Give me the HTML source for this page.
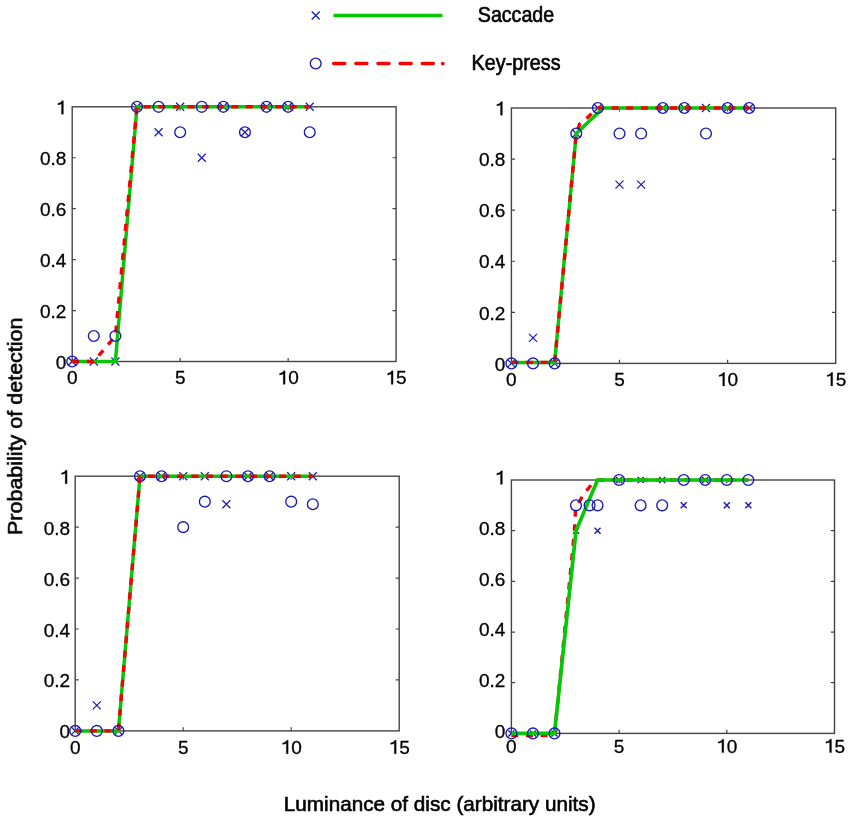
<!DOCTYPE html>
<html><head><meta charset="utf-8"><style>html,body{margin:0;padding:0;background:#fff;overflow:hidden}svg{display:block}g.t{filter:grayscale(1)}</style></head>
<body>
<svg width="851" height="823" viewBox="0 0 851 823">
<rect width="851" height="823" fill="#fff"/>
<rect x="72.2" y="106.8" width="323.90" height="254.70" fill="none" stroke="#444" stroke-width="1.4"/>
<path d="M72.20 310.56h3.6M396.10 310.56h-3.6M72.20 259.62h3.6M396.10 259.62h-3.6M72.20 208.68h3.6M396.10 208.68h-3.6M72.20 157.74h3.6M396.10 157.74h-3.6M180.17 361.50v-3.6M180.17 106.80v3.6M288.13 361.50v-3.6M288.13 106.80v3.6" stroke="#444" stroke-width="1.2" fill="none"/>
<g class="t" font-family="'Liberation Sans', sans-serif" font-size="19.0" fill="#000" stroke="#000" stroke-width="0.3"><text x="55.84" y="368.90">0</text><text x="39.99" y="317.96">0.2</text><text x="39.99" y="267.02">0.4</text><text x="39.99" y="216.08">0.6</text><text x="39.99" y="165.14">0.8</text><path transform="translate(55.84 114.20) scale(19.0)" d="M0.395 0H0.300V-0.555C0.250 -0.520 0.170 -0.500 0.105 -0.495V-0.565C0.215 -0.585 0.290 -0.630 0.325 -0.709H0.395Z" stroke-width="0.018"/><text x="66.92" y="384.30">0</text><text x="174.88" y="384.30">5</text><path transform="translate(277.57 384.30) scale(19.0)" d="M0.395 0H0.300V-0.555C0.250 -0.520 0.170 -0.500 0.105 -0.495V-0.565C0.215 -0.585 0.290 -0.630 0.325 -0.709H0.395Z" stroke-width="0.018"/><text x="288.13" y="384.30">0</text><path transform="translate(385.54 384.30) scale(19.0)" d="M0.395 0H0.300V-0.555C0.250 -0.520 0.170 -0.500 0.105 -0.495V-0.565C0.215 -0.585 0.290 -0.630 0.325 -0.709H0.395Z" stroke-width="0.018"/><text x="396.10" y="384.30">5</text></g>
<path d="M68.20 357.50L76.20 365.50M68.20 365.50L76.20 357.50" stroke="#1a1ab4" stroke-width="1.25" fill="none"/>
<path d="M89.79 357.50L97.79 365.50M89.79 365.50L97.79 357.50" stroke="#1a1ab4" stroke-width="1.25" fill="none"/>
<path d="M111.39 357.50L119.39 365.50M111.39 365.50L119.39 357.50" stroke="#1a1ab4" stroke-width="1.25" fill="none"/>
<path d="M132.98 102.80L140.98 110.80M132.98 110.80L140.98 102.80" stroke="#1a1ab4" stroke-width="1.25" fill="none"/>
<path d="M154.57 128.27L162.57 136.27M154.57 136.27L162.57 128.27" stroke="#1a1ab4" stroke-width="1.25" fill="none"/>
<path d="M176.17 102.80L184.17 110.80M176.17 110.80L184.17 102.80" stroke="#1a1ab4" stroke-width="1.25" fill="none"/>
<path d="M197.76 153.74L205.76 161.74M197.76 161.74L205.76 153.74" stroke="#1a1ab4" stroke-width="1.25" fill="none"/>
<path d="M219.35 102.80L227.35 110.80M219.35 110.80L227.35 102.80" stroke="#1a1ab4" stroke-width="1.25" fill="none"/>
<path d="M240.95 128.27L248.95 136.27M240.95 136.27L248.95 128.27" stroke="#1a1ab4" stroke-width="1.25" fill="none"/>
<path d="M262.54 102.80L270.54 110.80M262.54 110.80L270.54 102.80" stroke="#1a1ab4" stroke-width="1.25" fill="none"/>
<path d="M284.13 102.80L292.13 110.80M284.13 110.80L292.13 102.80" stroke="#1a1ab4" stroke-width="1.25" fill="none"/>
<path d="M305.73 102.80L313.73 110.80M305.73 110.80L313.73 102.80" stroke="#1a1ab4" stroke-width="1.25" fill="none"/>
<polyline points="72.20,361.50 115.39,361.50 136.98,106.80 309.73,106.80" fill="none" stroke="#04c804" stroke-width="3.5" stroke-linejoin="miter"/>
<polyline points="72.20,361.50 93.79,361.50 115.39,336.03 136.98,106.80 309.73,106.80" fill="none" stroke="#f80000" stroke-width="3.4" stroke-dasharray="7 7.6" stroke-linejoin="round"/>
<circle cx="72.20" cy="361.50" r="5.4" stroke="#1a1ab4" stroke-width="1.35" fill="none"/>
<circle cx="93.79" cy="336.03" r="5.4" stroke="#1a1ab4" stroke-width="1.35" fill="none"/>
<circle cx="115.39" cy="336.03" r="5.4" stroke="#1a1ab4" stroke-width="1.35" fill="none"/>
<circle cx="136.98" cy="106.80" r="5.4" stroke="#1a1ab4" stroke-width="1.35" fill="none"/>
<circle cx="158.57" cy="106.80" r="5.4" stroke="#1a1ab4" stroke-width="1.35" fill="none"/>
<circle cx="180.17" cy="132.27" r="5.4" stroke="#1a1ab4" stroke-width="1.35" fill="none"/>
<circle cx="201.76" cy="106.80" r="5.4" stroke="#1a1ab4" stroke-width="1.35" fill="none"/>
<circle cx="223.35" cy="106.80" r="5.4" stroke="#1a1ab4" stroke-width="1.35" fill="none"/>
<circle cx="244.95" cy="132.27" r="5.4" stroke="#1a1ab4" stroke-width="1.35" fill="none"/>
<circle cx="266.54" cy="106.80" r="5.4" stroke="#1a1ab4" stroke-width="1.35" fill="none"/>
<circle cx="288.13" cy="106.80" r="5.4" stroke="#1a1ab4" stroke-width="1.35" fill="none"/>
<circle cx="309.73" cy="132.27" r="5.4" stroke="#1a1ab4" stroke-width="1.35" fill="none"/>
<rect x="511.4" y="108.0" width="324.30" height="255.40" fill="none" stroke="#444" stroke-width="1.4"/>
<path d="M511.40 312.32h3.6M835.70 312.32h-3.6M511.40 261.24h3.6M835.70 261.24h-3.6M511.40 210.16h3.6M835.70 210.16h-3.6M511.40 159.08h3.6M835.70 159.08h-3.6M619.50 363.40v-3.6M619.50 108.00v3.6M727.60 363.40v-3.6M727.60 108.00v3.6" stroke="#444" stroke-width="1.2" fill="none"/>
<g class="t" font-family="'Liberation Sans', sans-serif" font-size="19.0" fill="#000" stroke="#000" stroke-width="0.3"><text x="494.84" y="370.60">0</text><text x="478.99" y="319.52">0.2</text><text x="478.99" y="268.44">0.4</text><text x="478.99" y="217.36">0.6</text><text x="478.99" y="166.28">0.8</text><path transform="translate(494.84 115.20) scale(19.0)" d="M0.395 0H0.300V-0.555C0.250 -0.520 0.170 -0.500 0.105 -0.495V-0.565C0.215 -0.585 0.290 -0.630 0.325 -0.709H0.395Z" stroke-width="0.018"/><text x="506.12" y="385.90">0</text><text x="614.22" y="385.90">5</text><path transform="translate(717.04 385.90) scale(19.0)" d="M0.395 0H0.300V-0.555C0.250 -0.520 0.170 -0.500 0.105 -0.495V-0.565C0.215 -0.585 0.290 -0.630 0.325 -0.709H0.395Z" stroke-width="0.018"/><text x="727.60" y="385.90">0</text><path transform="translate(825.14 385.90) scale(19.0)" d="M0.395 0H0.300V-0.555C0.250 -0.520 0.170 -0.500 0.105 -0.495V-0.565C0.215 -0.585 0.290 -0.630 0.325 -0.709H0.395Z" stroke-width="0.018"/><text x="835.70" y="385.90">5</text></g>
<path d="M507.40 359.40L515.40 367.40M507.40 367.40L515.40 359.40" stroke="#1a1ab4" stroke-width="1.25" fill="none"/>
<path d="M529.02 333.86L537.02 341.86M529.02 341.86L537.02 333.86" stroke="#1a1ab4" stroke-width="1.25" fill="none"/>
<path d="M550.64 359.40L558.64 367.40M550.64 367.40L558.64 359.40" stroke="#1a1ab4" stroke-width="1.25" fill="none"/>
<path d="M572.26 129.54L580.26 137.54M572.26 137.54L580.26 129.54" stroke="#1a1ab4" stroke-width="1.25" fill="none"/>
<path d="M593.88 104.00L601.88 112.00M593.88 112.00L601.88 104.00" stroke="#1a1ab4" stroke-width="1.25" fill="none"/>
<path d="M615.50 180.62L623.50 188.62M615.50 188.62L623.50 180.62" stroke="#1a1ab4" stroke-width="1.25" fill="none"/>
<path d="M637.12 180.62L645.12 188.62M637.12 188.62L645.12 180.62" stroke="#1a1ab4" stroke-width="1.25" fill="none"/>
<path d="M658.74 104.00L666.74 112.00M658.74 112.00L666.74 104.00" stroke="#1a1ab4" stroke-width="1.25" fill="none"/>
<path d="M680.36 104.00L688.36 112.00M680.36 112.00L688.36 104.00" stroke="#1a1ab4" stroke-width="1.25" fill="none"/>
<path d="M701.98 104.00L709.98 112.00M701.98 112.00L709.98 104.00" stroke="#1a1ab4" stroke-width="1.25" fill="none"/>
<path d="M723.60 104.00L731.60 112.00M723.60 112.00L731.60 104.00" stroke="#1a1ab4" stroke-width="1.25" fill="none"/>
<path d="M745.22 104.00L753.22 112.00M745.22 112.00L753.22 104.00" stroke="#1a1ab4" stroke-width="1.25" fill="none"/>
<polyline points="511.40,362.38 554.64,362.38 576.26,133.54 603.07,108.00 749.22,108.00" fill="none" stroke="#04c804" stroke-width="3.5" stroke-linejoin="miter"/>
<polyline points="511.40,362.38 554.64,362.38 576.26,133.54 579.50,124.35 587.50,117.45 597.88,108.00 749.22,108.00" fill="none" stroke="#f80000" stroke-width="3.4" stroke-dasharray="7 7.6" stroke-linejoin="round"/>
<circle cx="511.40" cy="363.40" r="5.4" stroke="#1a1ab4" stroke-width="1.35" fill="none"/>
<circle cx="533.02" cy="363.40" r="5.4" stroke="#1a1ab4" stroke-width="1.35" fill="none"/>
<circle cx="554.64" cy="363.40" r="5.4" stroke="#1a1ab4" stroke-width="1.35" fill="none"/>
<circle cx="576.26" cy="133.54" r="5.4" stroke="#1a1ab4" stroke-width="1.35" fill="none"/>
<circle cx="597.88" cy="108.00" r="5.4" stroke="#1a1ab4" stroke-width="1.35" fill="none"/>
<circle cx="619.50" cy="133.54" r="5.4" stroke="#1a1ab4" stroke-width="1.35" fill="none"/>
<circle cx="641.12" cy="133.54" r="5.4" stroke="#1a1ab4" stroke-width="1.35" fill="none"/>
<circle cx="662.74" cy="108.00" r="5.4" stroke="#1a1ab4" stroke-width="1.35" fill="none"/>
<circle cx="684.36" cy="108.00" r="5.4" stroke="#1a1ab4" stroke-width="1.35" fill="none"/>
<circle cx="705.98" cy="133.54" r="5.4" stroke="#1a1ab4" stroke-width="1.35" fill="none"/>
<circle cx="727.60" cy="108.00" r="5.4" stroke="#1a1ab4" stroke-width="1.35" fill="none"/>
<circle cx="749.22" cy="108.00" r="5.4" stroke="#1a1ab4" stroke-width="1.35" fill="none"/>
<rect x="75.2" y="476.2" width="324.00" height="254.70" fill="none" stroke="#444" stroke-width="1.4"/>
<path d="M75.20 679.96h3.6M399.20 679.96h-3.6M75.20 629.02h3.6M399.20 629.02h-3.6M75.20 578.08h3.6M399.20 578.08h-3.6M75.20 527.14h3.6M399.20 527.14h-3.6M183.20 730.90v-3.6M183.20 476.20v3.6M291.20 730.90v-3.6M291.20 476.20v3.6" stroke="#444" stroke-width="1.2" fill="none"/>
<g class="t" font-family="'Liberation Sans', sans-serif" font-size="19.0" fill="#000" stroke="#000" stroke-width="0.3"><text x="59.54" y="738.40">0</text><text x="43.69" y="687.46">0.2</text><text x="43.69" y="636.52">0.4</text><text x="43.69" y="585.58">0.6</text><text x="43.69" y="534.64">0.8</text><path transform="translate(59.54 483.70) scale(19.0)" d="M0.395 0H0.300V-0.555C0.250 -0.520 0.170 -0.500 0.105 -0.495V-0.565C0.215 -0.585 0.290 -0.630 0.325 -0.709H0.395Z" stroke-width="0.018"/><text x="69.92" y="753.70">0</text><text x="177.92" y="753.70">5</text><path transform="translate(280.64 753.70) scale(19.0)" d="M0.395 0H0.300V-0.555C0.250 -0.520 0.170 -0.500 0.105 -0.495V-0.565C0.215 -0.585 0.290 -0.630 0.325 -0.709H0.395Z" stroke-width="0.018"/><text x="291.20" y="753.70">0</text><path transform="translate(388.64 753.70) scale(19.0)" d="M0.395 0H0.300V-0.555C0.250 -0.520 0.170 -0.500 0.105 -0.495V-0.565C0.215 -0.585 0.290 -0.630 0.325 -0.709H0.395Z" stroke-width="0.018"/><text x="399.20" y="753.70">5</text></g>
<path d="M71.20 726.90L79.20 734.90M71.20 734.90L79.20 726.90" stroke="#1a1ab4" stroke-width="1.25" fill="none"/>
<path d="M92.80 701.43L100.80 709.43M92.80 709.43L100.80 701.43" stroke="#1a1ab4" stroke-width="1.25" fill="none"/>
<path d="M114.40 726.90L122.40 734.90M114.40 734.90L122.40 726.90" stroke="#1a1ab4" stroke-width="1.25" fill="none"/>
<path d="M136.00 472.20L144.00 480.20M136.00 480.20L144.00 472.20" stroke="#1a1ab4" stroke-width="1.25" fill="none"/>
<path d="M157.60 472.20L165.60 480.20M157.60 480.20L165.60 472.20" stroke="#1a1ab4" stroke-width="1.25" fill="none"/>
<path d="M179.20 472.20L187.20 480.20M179.20 480.20L187.20 472.20" stroke="#1a1ab4" stroke-width="1.25" fill="none"/>
<path d="M200.80 472.20L208.80 480.20M200.80 480.20L208.80 472.20" stroke="#1a1ab4" stroke-width="1.25" fill="none"/>
<path d="M222.40 500.22L230.40 508.22M222.40 508.22L230.40 500.22" stroke="#1a1ab4" stroke-width="1.25" fill="none"/>
<path d="M244.00 472.20L252.00 480.20M244.00 480.20L252.00 472.20" stroke="#1a1ab4" stroke-width="1.25" fill="none"/>
<path d="M265.60 472.20L273.60 480.20M265.60 480.20L273.60 472.20" stroke="#1a1ab4" stroke-width="1.25" fill="none"/>
<path d="M287.20 472.20L295.20 480.20M287.20 480.20L295.20 472.20" stroke="#1a1ab4" stroke-width="1.25" fill="none"/>
<path d="M308.80 472.20L316.80 480.20M308.80 480.20L316.80 472.20" stroke="#1a1ab4" stroke-width="1.25" fill="none"/>
<polyline points="75.20,730.90 118.40,730.90 140.00,476.20 312.80,476.20" fill="none" stroke="#04c804" stroke-width="3.5" stroke-linejoin="miter"/>
<polyline points="75.20,730.90 118.40,730.90 140.00,476.20 312.80,476.20" fill="none" stroke="#f80000" stroke-width="3.4" stroke-dasharray="7 7.6" stroke-linejoin="round"/>
<circle cx="75.20" cy="730.90" r="5.4" stroke="#1a1ab4" stroke-width="1.35" fill="none"/>
<circle cx="96.80" cy="730.90" r="5.4" stroke="#1a1ab4" stroke-width="1.35" fill="none"/>
<circle cx="118.40" cy="730.90" r="5.4" stroke="#1a1ab4" stroke-width="1.35" fill="none"/>
<circle cx="140.00" cy="476.20" r="5.4" stroke="#1a1ab4" stroke-width="1.35" fill="none"/>
<circle cx="161.60" cy="476.20" r="5.4" stroke="#1a1ab4" stroke-width="1.35" fill="none"/>
<circle cx="183.20" cy="527.14" r="5.4" stroke="#1a1ab4" stroke-width="1.35" fill="none"/>
<circle cx="204.80" cy="501.67" r="5.4" stroke="#1a1ab4" stroke-width="1.35" fill="none"/>
<circle cx="226.40" cy="476.20" r="5.4" stroke="#1a1ab4" stroke-width="1.35" fill="none"/>
<circle cx="248.00" cy="476.20" r="5.4" stroke="#1a1ab4" stroke-width="1.35" fill="none"/>
<circle cx="269.60" cy="476.20" r="5.4" stroke="#1a1ab4" stroke-width="1.35" fill="none"/>
<circle cx="291.20" cy="501.67" r="5.4" stroke="#1a1ab4" stroke-width="1.35" fill="none"/>
<circle cx="312.80" cy="504.22" r="5.4" stroke="#1a1ab4" stroke-width="1.35" fill="none"/>
<rect x="511.4" y="480.0" width="323.10" height="253.40" fill="none" stroke="#444" stroke-width="1.4"/>
<path d="M511.40 682.72h3.6M834.50 682.72h-3.6M511.40 632.04h3.6M834.50 632.04h-3.6M511.40 581.36h3.6M834.50 581.36h-3.6M511.40 530.68h3.6M834.50 530.68h-3.6M619.10 733.40v-3.6M619.10 480.00v3.6M726.80 733.40v-3.6M726.80 480.00v3.6" stroke="#444" stroke-width="1.2" fill="none"/>
<g class="t" font-family="'Liberation Sans', sans-serif" font-size="19.0" fill="#000" stroke="#000" stroke-width="0.3"><text x="494.84" y="737.70">0</text><text x="478.99" y="687.02">0.2</text><text x="478.99" y="636.34">0.4</text><text x="478.99" y="585.66">0.6</text><text x="478.99" y="534.98">0.8</text><path transform="translate(494.84 484.30) scale(19.0)" d="M0.395 0H0.300V-0.555C0.250 -0.520 0.170 -0.500 0.105 -0.495V-0.565C0.215 -0.585 0.290 -0.630 0.325 -0.709H0.395Z" stroke-width="0.018"/><text x="506.12" y="752.60">0</text><text x="613.82" y="752.60">5</text><path transform="translate(716.24 752.60) scale(19.0)" d="M0.395 0H0.300V-0.555C0.250 -0.520 0.170 -0.500 0.105 -0.495V-0.565C0.215 -0.585 0.290 -0.630 0.325 -0.709H0.395Z" stroke-width="0.018"/><text x="726.80" y="752.60">0</text><path transform="translate(823.94 752.60) scale(19.0)" d="M0.395 0H0.300V-0.555C0.250 -0.520 0.170 -0.500 0.105 -0.495V-0.565C0.215 -0.585 0.290 -0.630 0.325 -0.709H0.395Z" stroke-width="0.018"/><text x="834.50" y="752.60">5</text></g>
<path d="M508.40 730.40L514.40 736.40M508.40 736.40L514.40 730.40" stroke="#1a1ab4" stroke-width="1.45" fill="none"/>
<path d="M529.94 730.40L535.94 736.40M529.94 736.40L535.94 730.40" stroke="#1a1ab4" stroke-width="1.45" fill="none"/>
<path d="M551.48 730.40L557.48 736.40M551.48 736.40L557.48 730.40" stroke="#1a1ab4" stroke-width="1.45" fill="none"/>
<path d="M573.02 527.68L579.02 533.68M573.02 533.68L579.02 527.68" stroke="#1a1ab4" stroke-width="1.45" fill="none"/>
<path d="M594.56 527.68L600.56 533.68M594.56 533.68L600.56 527.68" stroke="#1a1ab4" stroke-width="1.45" fill="none"/>
<path d="M616.10 477.00L622.10 483.00M616.10 483.00L622.10 477.00" stroke="#1a1ab4" stroke-width="1.45" fill="none"/>
<path d="M637.64 477.00L643.64 483.00M637.64 483.00L643.64 477.00" stroke="#1a1ab4" stroke-width="1.45" fill="none"/>
<path d="M659.18 477.00L665.18 483.00M659.18 483.00L665.18 477.00" stroke="#1a1ab4" stroke-width="1.45" fill="none"/>
<path d="M680.72 502.34L686.72 508.34M680.72 508.34L686.72 502.34" stroke="#1a1ab4" stroke-width="1.45" fill="none"/>
<path d="M702.26 477.00L708.26 483.00M702.26 483.00L708.26 477.00" stroke="#1a1ab4" stroke-width="1.45" fill="none"/>
<path d="M723.80 502.34L729.80 508.34M723.80 508.34L729.80 502.34" stroke="#1a1ab4" stroke-width="1.45" fill="none"/>
<path d="M745.34 502.34L751.34 508.34M745.34 508.34L751.34 502.34" stroke="#1a1ab4" stroke-width="1.45" fill="none"/>
<polyline points="511.40,735.43 554.48,735.43 574.51,530.68 575.59,507.87 583.99,493.94 591.10,485.07 597.56,480.00 748.34,480.00" fill="none" stroke="#f80000" stroke-width="3.4" stroke-dasharray="7 7.6" stroke-linejoin="round"/>
<polyline points="511.40,733.40 554.48,733.40 576.02,530.68 597.56,480.00 748.34,480.00" fill="none" stroke="#04c804" stroke-width="3.7" stroke-linejoin="miter"/>
<circle cx="511.40" cy="733.40" r="5.4" stroke="#1a1ab4" stroke-width="1.35" fill="none"/>
<circle cx="532.94" cy="733.40" r="5.4" stroke="#1a1ab4" stroke-width="1.35" fill="none"/>
<circle cx="554.48" cy="733.40" r="5.4" stroke="#1a1ab4" stroke-width="1.35" fill="none"/>
<circle cx="576.02" cy="505.34" r="5.4" stroke="#1a1ab4" stroke-width="1.35" fill="none"/>
<circle cx="589.59" cy="505.34" r="5.4" stroke="#1a1ab4" stroke-width="1.35" fill="none"/>
<circle cx="597.56" cy="505.34" r="5.4" stroke="#1a1ab4" stroke-width="1.35" fill="none"/>
<circle cx="619.10" cy="480.00" r="5.4" stroke="#1a1ab4" stroke-width="1.35" fill="none"/>
<circle cx="640.64" cy="505.34" r="5.4" stroke="#1a1ab4" stroke-width="1.35" fill="none"/>
<circle cx="662.18" cy="505.34" r="5.4" stroke="#1a1ab4" stroke-width="1.35" fill="none"/>
<circle cx="683.72" cy="480.00" r="5.4" stroke="#1a1ab4" stroke-width="1.35" fill="none"/>
<circle cx="705.26" cy="480.00" r="5.4" stroke="#1a1ab4" stroke-width="1.35" fill="none"/>
<circle cx="726.80" cy="480.00" r="5.4" stroke="#1a1ab4" stroke-width="1.35" fill="none"/>
<circle cx="748.34" cy="480.00" r="5.4" stroke="#1a1ab4" stroke-width="1.35" fill="none"/>
<path d="M311.70 11.50L319.70 19.50M311.70 19.50L319.70 11.50" stroke="#1a1ab4" stroke-width="1.25" fill="none"/>
<line x1="333.5" y1="15.5" x2="442.5" y2="15.5" stroke="#04c804" stroke-width="3.5"/>
<circle cx="315.70" cy="63.50" r="5.4" stroke="#1a1ab4" stroke-width="1.35" fill="none"/>
<line x1="333.7" y1="63.6" x2="444.4" y2="63.6" stroke="#f80000" stroke-width="3.5" stroke-dasharray="11 11.15" stroke-linecap="round"/>
<circle cx="442.8" cy="63.6" r="1.9" fill="#f80000"/>
<g class="t" font-family="'Liberation Sans', sans-serif" font-size="21.4" fill="#000" stroke="#000" stroke-width="0.62">
<text x="477.8" y="22.2" textLength="76.4" lengthAdjust="spacingAndGlyphs">Saccade</text>
<text x="471.6" y="69.9" textLength="89" lengthAdjust="spacingAndGlyphs">Key-press</text>
<text font-size="21" x="283.8" y="810.9" textLength="311.8" lengthAdjust="spacingAndGlyphs">Luminance of disc (arbitrary units)</text>
<text font-size="21" transform="translate(22.1,535.0) rotate(-90)" x="0" y="0" textLength="217.5" lengthAdjust="spacingAndGlyphs">Probability of detection</text>
</g>
</svg>
</body></html>
